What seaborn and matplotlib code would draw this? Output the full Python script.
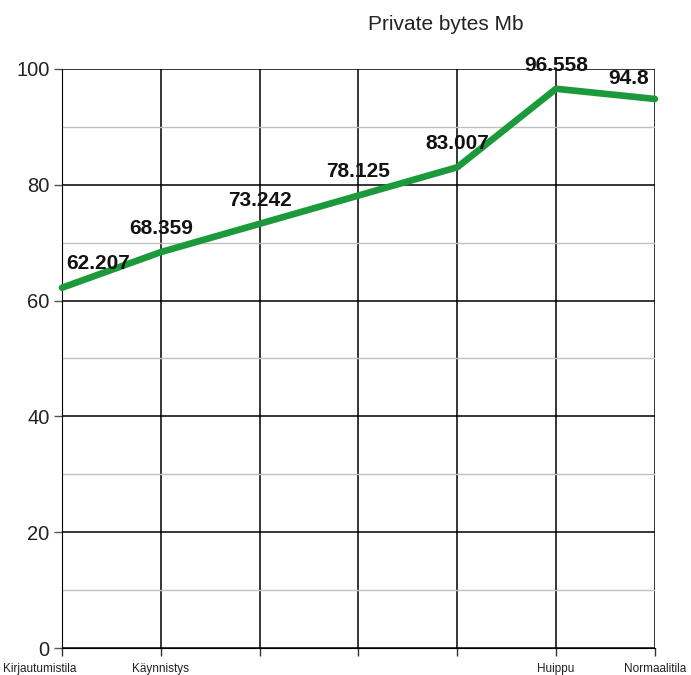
import pandas as pd
import seaborn as sns
import matplotlib.pyplot as plt
from matplotlib.ticker import MultipleLocator
from matplotlib.transforms import ScaledTranslation

stages = ['Kirjautumistila', 'Käynnistys', '', '', '', 'Huippu', 'Normaalitila']
private_mb = [62.207, 68.359, 73.242, 78.125, 83.007, 96.558, 94.8]

df = pd.DataFrame({'pos': range(len(private_mb)), 'mb': private_mb})

sns.set_style('white')
plt.rcParams['font.family'] = ['Liberation Sans', 'DejaVu Sans']

fig = plt.figure(figsize=(6.91, 6.75), dpi=100)
ax = fig.add_axes([0.0897, 0.04, 0.858, 0.858])

sns.lineplot(data=df, x='pos', y='mb', color='#1c9a3b', linewidth=4.8, ax=ax,
             solid_capstyle='round', zorder=5, clip_on=False)

ax.set_xlim(0, len(private_mb) - 1)
ax.set_ylim(0, 100)
ax.yaxis.set_major_locator(MultipleLocator(20))
ax.yaxis.set_minor_locator(MultipleLocator(10))
ax.set_xticks(df['pos'])
ax.set_xticklabels(stages, fontsize=8.5, color='#222222')
ax.grid(which='major', axis='both', color='black', linewidth=1.1)
ax.grid(which='minor', axis='y', color='#c0c0c0', linewidth=1.0)
ax.tick_params(axis='y', which='major', direction='out', length=6, width=1,
               color='#555555', labelsize=14.5, labelcolor='#222222', left=True, pad=3)
ax.tick_params(axis='x', which='major', direction='out', length=6, width=1,
               color='#333333', pad=5, bottom=True)
ax.tick_params(axis='y', which='minor', left=False)
for s in ['top', 'right']:
    ax.spines[s].set_visible(False)
ax.spines['left'].set_color('black')
ax.spines['bottom'].set_color('black')
ax.set_xlabel('')
ax.set_ylabel('')

# first x label pushed left so it sits at the image edge
first = ax.get_xticklabels()[0]
first.set_transform(first.get_transform() + ScaledTranslation(-0.22, 0, fig.dpi_scale_trans))

offsets_x = [0.37, 0, 0, 0, 0, 0, -0.27]
offsets_y = [4.1, 4.1, 4.1, 4.1, 4.1, 4.0, 3.5]
for i, v in enumerate(private_mb):
    ax.text(i + offsets_x[i], v + offsets_y[i], f'{v:g}', ha='center', va='center',
            fontsize=15, fontweight='bold', color='#111111', zorder=6)

fig.text(0.645, 0.963, 'Private bytes Mb', ha='center', va='center',
         fontsize=15, color='#222222')

fig.savefig('out.png', dpi=100)
